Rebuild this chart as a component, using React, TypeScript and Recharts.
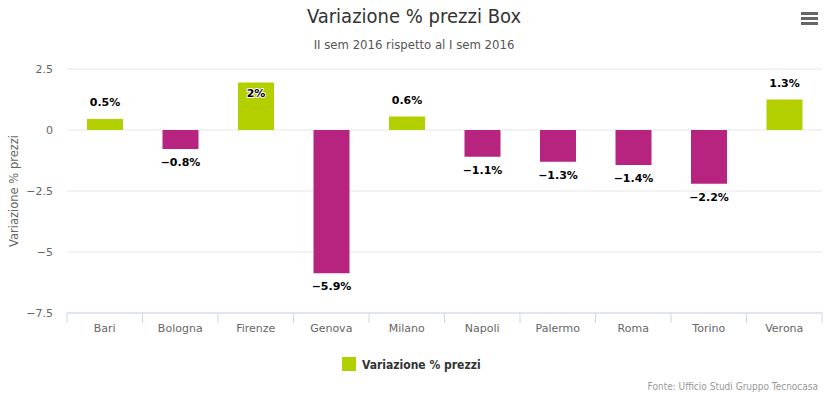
import React from "react";
import { BarChart, Bar, XAxis, YAxis, CartesianGrid, Cell, LabelList } from "recharts";

const categories = ["Bari", "Bologna", "Firenze", "Genova", "Milano", "Napoli", "Palermo", "Roma", "Torino", "Verona"];
const values = [0.45, -0.78, 1.95, -5.87, 0.55, -1.1, -1.3, -1.43, -2.2, 1.25];
const valueLabels = ["0.5%", "−0.8%", "2%", "−5.9%", "0.6%", "−1.1%", "−1.3%", "−1.4%", "−2.2%", "1.3%"];
const yTicks = [-7.5, -5, -2.5, 0, 2.5];

const title = "Variazione % prezzi Box";
const subtitle = "II sem 2016 rispetto al I sem 2016";
const seriesName = "Variazione % prezzi";
const yAxisTitle = "Variazione % prezzi";
const credits = "Fonte: Ufficio Studi Gruppo Tecnocasa";

const data = categories.map((c, i) => ({ name: c, value: values[i], label: valueLabels[i] }));

const GREEN = "#b3cf00";
const MAGENTA = "#b7247f";
const CONDENSED = "'DejaVu Sans Condensed', 'Liberation Sans Narrow', sans-serif";
const BODY = "'DejaVu Sans', Verdana, sans-serif";

const BAND = 75.5;

const XTick = (props: any) => {
  const { x, y, payload, index } = props;
  const left = x - BAND / 2;
  return (
    <g>
      <line x1={left} x2={left} y1={y} y2={y + 10} stroke="#ccd6eb" />
      {index === categories.length - 1 && (
        <line x1={x + BAND / 2} x2={x + BAND / 2} y1={y} y2={y + 10} stroke="#ccd6eb" />
      )}
      <text x={x} y={y + 19} textAnchor="middle" fill="#666" fontSize={11} fontFamily={BODY}>
        {payload.value}
      </text>
    </g>
  );
};

const YTick = (props: any) => {
  const { x, y, payload } = props;
  const v = payload.value as number;
  const s = v < 0 ? "−" + String(Math.abs(v)) : String(v);
  return (
    <text x={x} y={y + 4} textAnchor="end" fill="#666" fontSize={11} fontFamily={BODY}>
      {s}
    </text>
  );
};

const ValueLabel = (props: any) => {
  const { x, y, width, height, index } = props;
  const v = values[index];
  const cx = x + width / 2;
  const top = Math.min(y, y + height);
  const bottom = Math.max(y, y + height);
  let ty: number;
  if (v >= 0) {
    ty = top - 16;
    if (ty < 75) ty = top + 12;
  } else {
    ty = bottom + 14;
  }
  return (
    <text
      x={cx}
      y={ty}
      textAnchor="middle"
      dominantBaseline="middle"
      fontSize={11}
      fontWeight="bold"
      fill="#000"
      fontFamily={BODY}
      stroke="#fff"
      strokeWidth={2}
      paintOrder="stroke"
      strokeLinejoin="round"
    >
      {valueLabels[index]}
    </text>
  );
};

export default function App() {
  return (
    <div style={{ position: "absolute", left: 0, top: 0, width: 828, height: 397, background: "#fff" }}>
      <BarChart
        width={828}
        height={397}
        data={data}
        margin={{ top: 69, right: 6, bottom: 54, left: 0 }}
        barCategoryGap={0}
      >
        <CartesianGrid vertical={false} stroke="#e6e6e6" />
        <XAxis
          dataKey="name"
          height={30}
          axisLine={{ stroke: "#ccd6eb" }}
          tickLine={false}
          tickSize={0}
          tickMargin={0}
          tick={<XTick />}
          interval={0}
        />
        <YAxis
          width={67}
          domain={[-7.5, 2.5]}
          ticks={yTicks}
          axisLine={false}
          tickLine={false}
          tickSize={0}
          tickMargin={14}
          tick={<YTick />}
          allowDataOverflow
        />
        <Bar dataKey="value" barSize={36} isAnimationActive={false}>
          {data.map((d, i) => (
            <Cell key={i} fill={d.value >= 0 ? GREEN : MAGENTA} />
          ))}
          <LabelList dataKey="label" content={<ValueLabel />} />
        </Bar>
      </BarChart>

      <div
        style={{
          position: "absolute",
          left: 0,
          width: 828,
          top: 3,
          textAlign: "center",
          fontFamily: CONDENSED,
          fontSize: 20,
          color: "#333",
          lineHeight: "26px",
        }}
      >
        {title}
      </div>
      <div
        style={{
          position: "absolute",
          left: 0,
          width: 828,
          top: 36,
          textAlign: "center",
          fontFamily: CONDENSED,
          fontSize: 13,
          color: "#555",
          lineHeight: "18px",
        }}
      >
        {subtitle}
      </div>

      <svg style={{ position: "absolute", left: 0, top: 0 }} width={828} height={397}>
        <rect x={801} y={12} width={17} height={3} fill="#666" />
        <rect x={801} y={17} width={17} height={3} fill="#666" />
        <rect x={801} y={22} width={17} height={3} fill="#666" />
        <text
          transform="translate(14,191) rotate(-90)"
          textAnchor="middle"
          dominantBaseline="middle"
          fill="#666"
          fontSize={11.5}
          fontFamily={BODY}
        >
          {yAxisTitle}
        </text>
        <rect x={342} y={357} width={14} height={14} fill={GREEN} />
        <text x={362} y={368.5} fill="#333" fontSize={12} fontWeight="bold" fontFamily={CONDENSED}>
          {seriesName}
        </text>
        <text x={818} y={390} textAnchor="end" fill="#999" fontSize={10} fontFamily={CONDENSED}>
          {credits}
        </text>
      </svg>
    </div>
  );
}
